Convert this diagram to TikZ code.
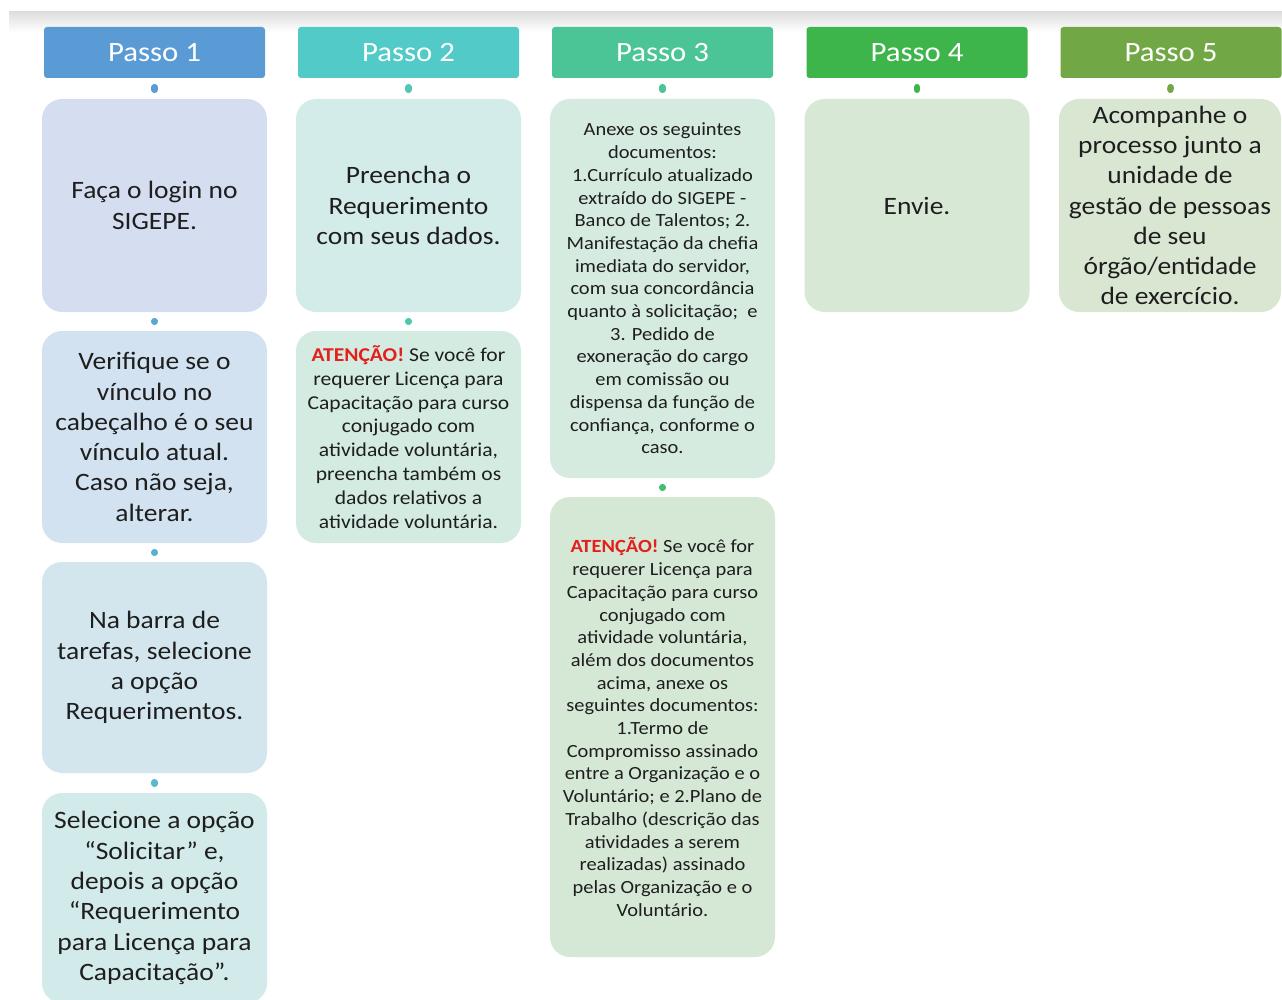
\documentclass[tikz,border=0pt]{standalone}
\usepackage{fontspec}
\setmainfont[FakeStretch=1.1]{Carlito}
\definecolor{hA}{HTML}{5B9BD5}
\definecolor{hB}{HTML}{52CAC8}
\definecolor{hC}{HTML}{4CC596}
\definecolor{hD}{HTML}{3DB54A}
\definecolor{hE}{HTML}{71A845}
\definecolor{fA1}{HTML}{D5DEF0}
\definecolor{fA2}{HTML}{D2E2F0}
\definecolor{fA3}{HTML}{D3E6EE}
\definecolor{fA4}{HTML}{D2EAE9}
\definecolor{fB1}{HTML}{D3ECE9}
\definecolor{fB2}{HTML}{D4EBE2}
\definecolor{fC1}{HTML}{D5EBDF}
\definecolor{fC2}{HTML}{D5E8D6}
\definecolor{fD}{HTML}{D7E9D5}
\definecolor{fE}{HTML}{D9E7D2}
\definecolor{txt}{HTML}{1E1E1E}
\definecolor{warn}{HTML}{E3201B}
\begin{document}
\begin{tikzpicture}[x=1pt,y=-1pt,
  hdr/.style={rectangle, rounded corners=3pt, minimum width=221pt, minimum height=51pt, inner sep=0pt, text=white, font=\fontsize{28}{34}\selectfont},
  stepbox/.style={rectangle, rounded corners=20pt, minimum width=225pt, inner sep=0pt, align=center, text=txt},
  big/.style={font=\fontsize{25}{30.3}\selectfont},
  small/.style={font=\fontsize{18.6}{22.7}\selectfont},
  mid/.style={font=\fontsize{19.6}{23.9}\selectfont},
  dotc/.style={line width=6.5pt, draw=#1, line cap=round, shorten <=9pt, shorten >=9pt}]
\useasboundingbox (0,0) rectangle (1282,1000);
\shade[top color=black!13, bottom color=white] (9,12) rectangle (1282,32);

\node[hdr, fill=hA] (h1) at (154.5,52.5) {Passo 1};
\node[hdr, fill=hB] (h2) at (408.5,52.5) {Passo 2};
\node[hdr, fill=hC] (h3) at (662.5,52.5) {Passo 3};
\node[hdr, fill=hD] (h4) at (917,52.5) {Passo 4};
\node[hdr, fill=hE] (h5) at (1171,52.5) {Passo 5};

\node[stepbox, big, fill=fA1, minimum height=213pt] (b11) at (154.5,205.5) {Faça o login no\\SIGEPE.};
\node[stepbox, big, fill=fA2, minimum height=212pt] (b12) at (154.5,437) {Verifique se o\\vínculo no\\cabeçalho é o seu\\vínculo atual.\\Caso não seja,\\alterar.};
\node[stepbox, big, fill=fA3, minimum height=211pt] (b13) at (154.5,667.5) {Na barra de\\tarefas, selecione\\a opção\\Requerimentos.};
\node[stepbox, big, fill=fA4, minimum height=210pt] (b14) at (154.5,898) {Selecione a opção\\“Solicitar” e,\\depois a opção\\“Requerimento\\para Licença para\\Capacitação”.};

\node[stepbox, big, fill=fB1, minimum height=213pt] (b21) at (408.5,205.5) {Preencha o\\Requerimento\\com seus dados.};
\node[stepbox, mid, fill=fB2, minimum height=212pt] (b22) at (408.5,437) {\textcolor{warn}{\textbf{ATENÇÃO!}} Se você for\\requerer Licença para\\Capacitação para curso\\conjugado com\\atividade voluntária,\\preencha também os\\dados relativos a\\atividade voluntária.};

\node[stepbox, small, fill=fC1, minimum height=379pt] (b31) at (662.5,288.5) {Anexe os seguintes\\documentos:\\1.Currículo atualizado\\extraído do SIGEPE -\\Banco de Talentos; 2.\\Manifestação da chefia\\imediata do servidor,\\com sua concordância\\quanto à solicitação;\ \ e\\3. Pedido de\\exoneração do cargo\\em comissão ou\\dispensa da função de\\confiança, conforme o\\caso.};
\node[stepbox, small, fill=fC2, minimum height=460pt] (b32) at (662.5,727) {\textcolor{warn}{\textbf{ATENÇÃO!}} Se você for\\requerer Licença para\\Capacitação para curso\\conjugado com\\atividade voluntária,\\além dos documentos\\acima, anexe os\\seguintes documentos:\\1.Termo de\\Compromisso assinado\\entre a Organização e o\\Voluntário; e 2.Plano de\\Trabalho (descrição das\\atividades a serem\\realizadas) assinado\\pelas Organização e o\\Voluntário.};

\node[stepbox, big, fill=fD, minimum height=213pt] (b41) at (917,205.5) {Envie.};
\node[stepbox, big, fill=fE, minimum height=213pt, minimum width=222pt] (b51) at (1170,205.5) {Acompanhe o\\processo junto a\\unidade de\\gestão de pessoas\\de seu\\órgão/entidade\\de exercício.};

\draw[dotc=hA] (h1.south) -- (b11.north);
\draw[dotc=hA!70!hB] (b11.south) -- (b12.north);
\draw[dotc=hA!50!hB] (b12.south) -- (b13.north);
\draw[dotc=hA!30!hB] (b13.south) -- (b14.north);
\draw[dotc=hB!60!hC] (h2.south) -- (b21.north);
\draw[dotc=hB!40!hC] (b21.south) -- (b22.north);
\draw[dotc=hC] (h3.south) -- (b31.north);
\draw[dotc=hC!50!hD] (b31.south) -- (b32.north);
\draw[dotc=hD] (h4.south) -- (b41.north);
\draw[dotc=hE] (h5.south) -- (b51.north);
\end{tikzpicture}
\end{document}
